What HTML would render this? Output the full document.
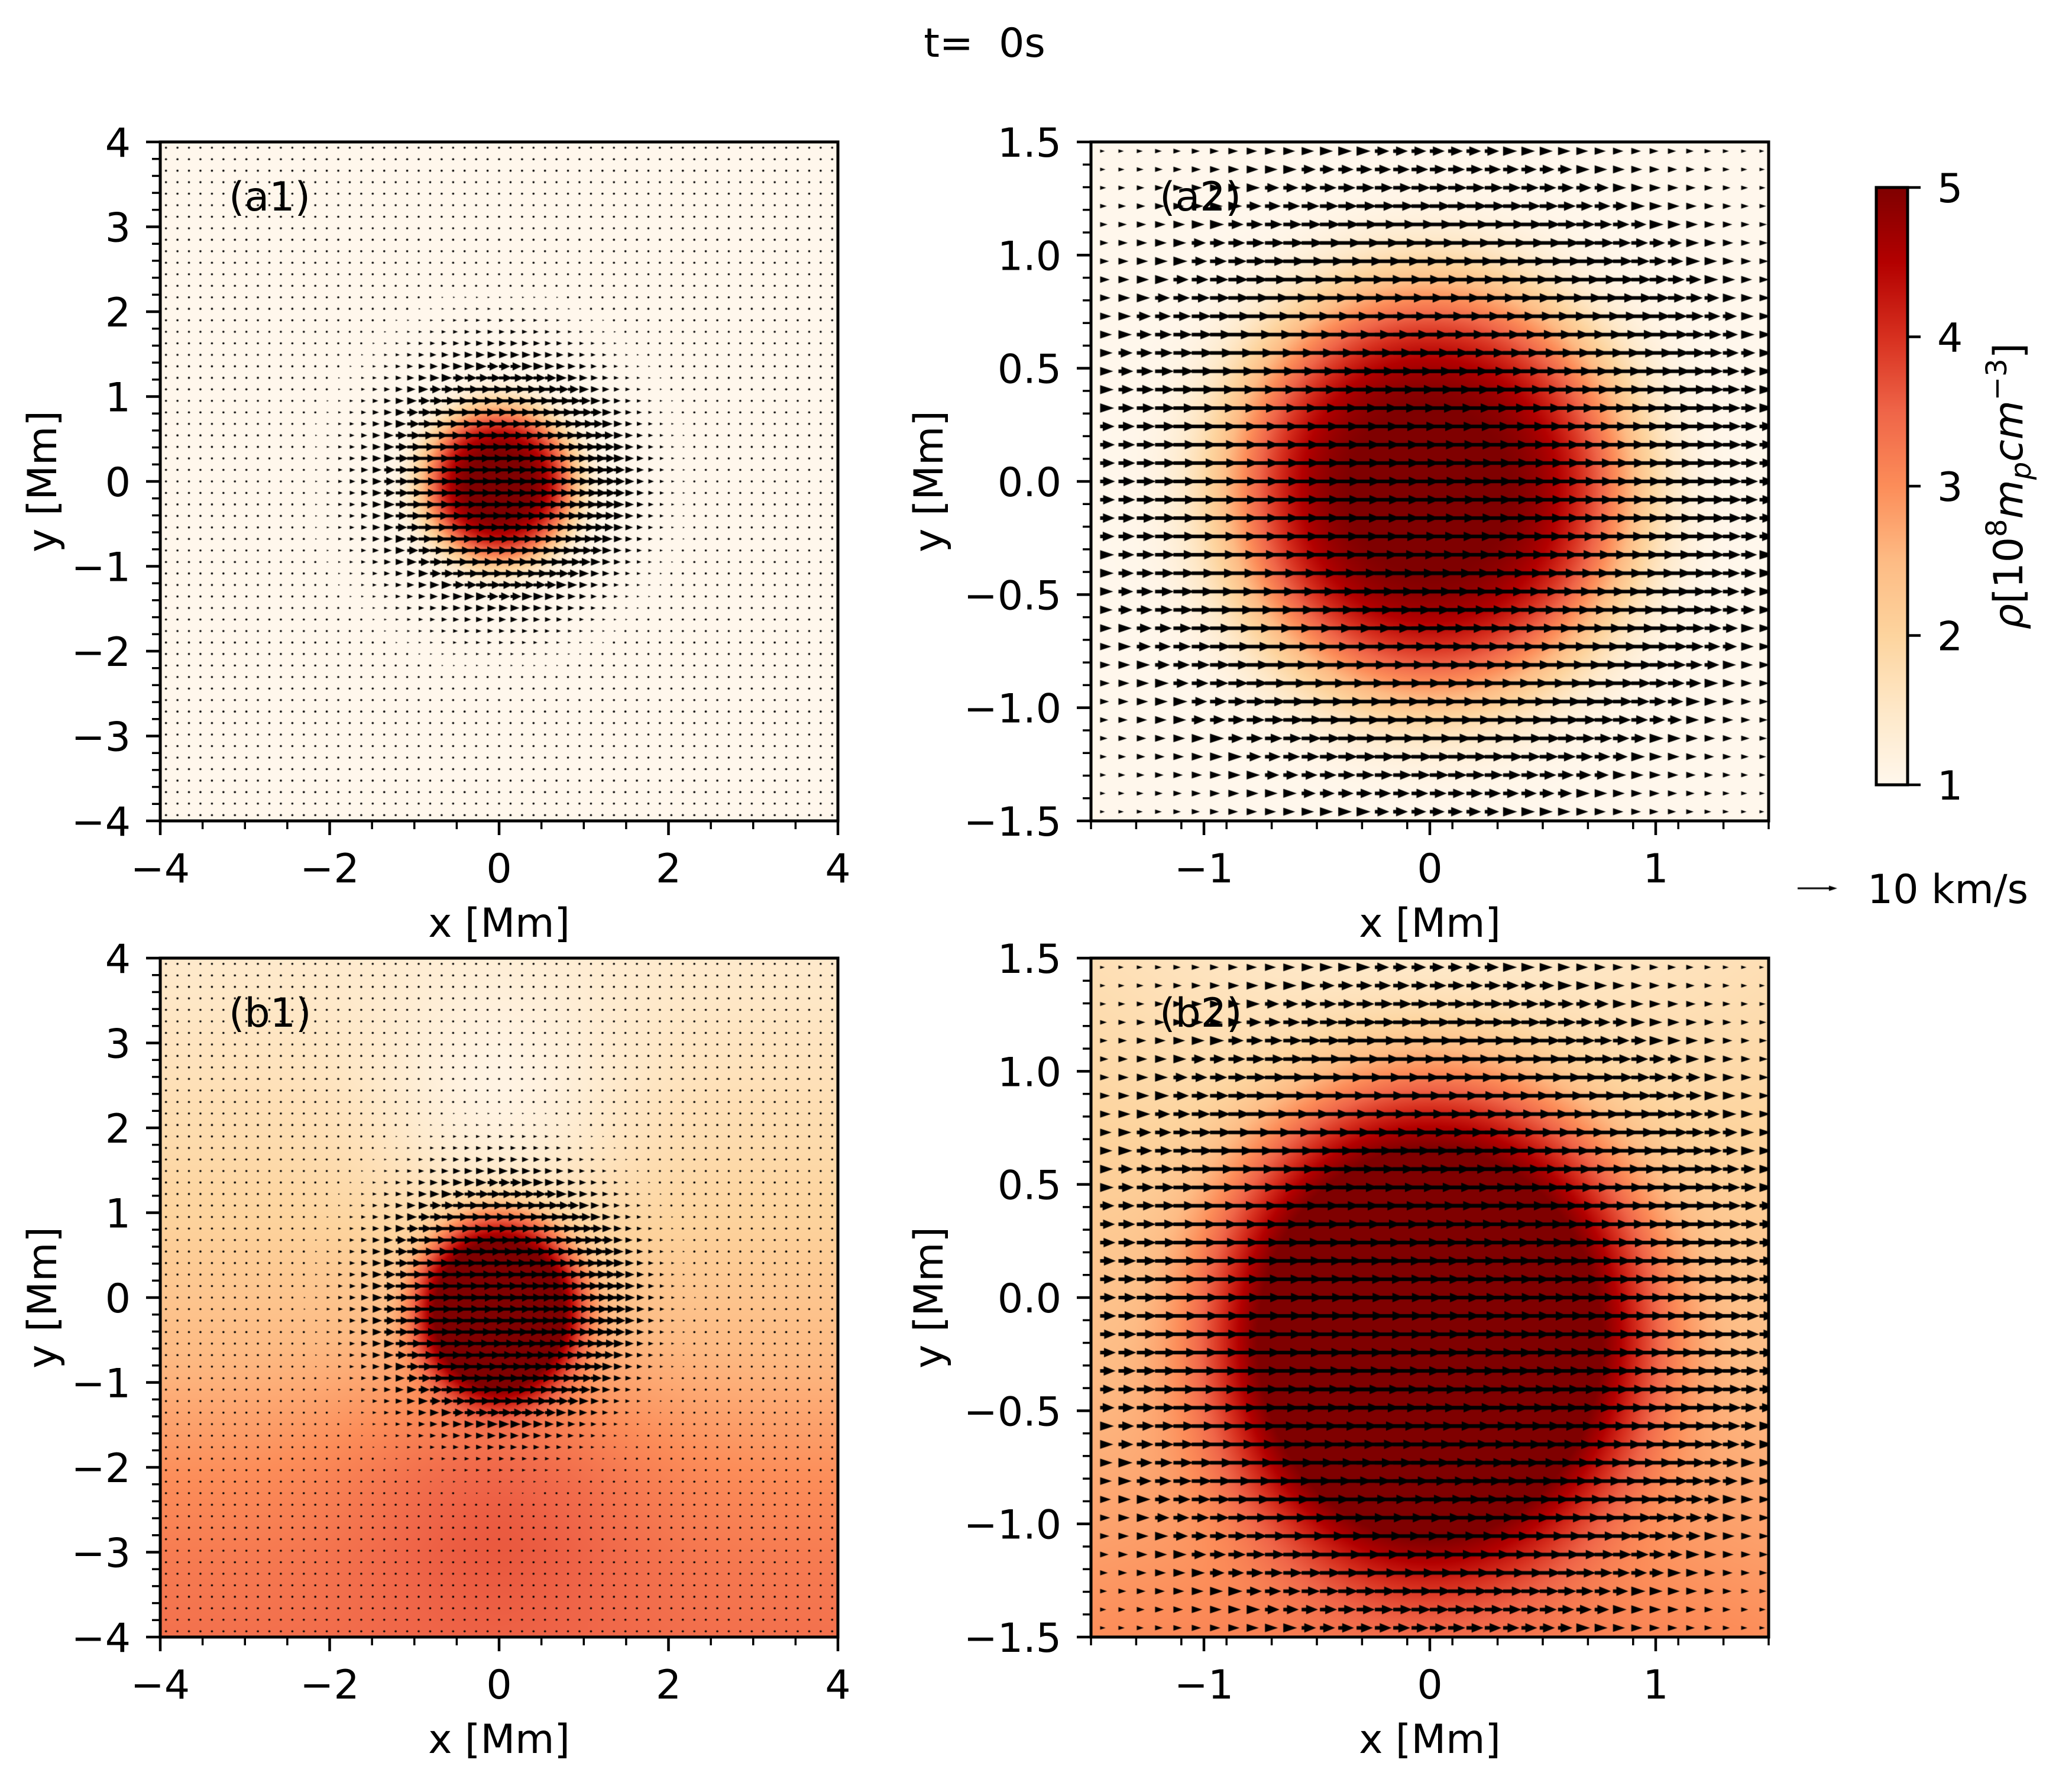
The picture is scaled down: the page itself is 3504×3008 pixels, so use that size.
<!DOCTYPE html>
<html><head><meta charset="utf-8">
<style>
html,body{margin:0;padding:0;background:#fff;}
#wrap{position:relative;width:3504px;height:3008px;overflow:hidden;}
canvas,svg{position:absolute;left:0;top:0;}
text{font-family:"DejaVu Sans","Liberation Sans",sans-serif;fill:#000;}
</style></head>
<body>
<div id="wrap">
<canvas id="cv" width="3504" height="3008"></canvas>
<svg id="sv" width="3504" height="3008" xmlns="http://www.w3.org/2000/svg"></svg>
</div>
<script>
// ---------- data ----------
const panelNames = ["a1","a2","b1","b2"];
const xRanges = [[-4,4],[-1.5,1.5],[-4,4],[-1.5,1.5]];
const yRanges = [[-4,4],[-1.5,1.5],[-4,4],[-1.5,1.5]];
const xTickVals = [[-4,-2,0,2,4],[-1,0,1],[-4,-2,0,2,4],[-1,0,1]];
const xTickLabels = [["−4","−2","0","2","4"],["−1","0","1"],["−4","−2","0","2","4"],["−1","0","1"]];
const yTickVals = [[-4,-3,-2,-1,0,1,2,3,4],[-1.5,-1,-0.5,0,0.5,1,1.5],[-4,-3,-2,-1,0,1,2,3,4],[-1.5,-1,-0.5,0,0.5,1,1.5]];
const yTickLabels = [["−4","−3","−2","−1","0","1","2","3","4"],["−1.5","−1.0","−0.5","0.0","0.5","1.0","1.5"],["−4","−3","−2","−1","0","1","2","3","4"],["−1.5","−1.0","−0.5","0.0","0.5","1.0","1.5"]];
const xMinorStep = [0.5,0.2,0.5,0.2];
const yMinorStep = [0.2,0.1,0.2,0.1];
// density blob: [cx, cy, Rx, Ry, sharpnessPower, amplitude]
const blobA = [0, -0.04, 0.9, 0.92, 4, 4.1];
const blobB = [0, -0.1, 0.95, 1.08, 4, 3.9];
// stratified background (panel b): density at the side edges vs height
const bgY = [4, 3, 2, 1, 0, -1, -2, -3, -4];
const bgEdge = [1.45, 1.6, 1.8, 2.0, 2.3, 2.6, 2.95, 3.2, 3.35];
// central perturbation: [cy, amplitude, width]
const bgDip = [2.2, -0.6, 1.5];
const bgBump = [-2.2, 0.5, 1.8];
// velocity field (horizontal): peak speed km/s per panel, gaussian width Mm
const vPeak = [7, 7, 7.5, 7.5];
const vWidth = [1.36, 1.36, 1.36, 1.36];
const vCenterY = [0, 0, -0.05, -0.05];
const quiverN = [59, 37, 59, 37];
const cbTicks = [1,2,3,4,5];
const cbRange = [1,5];
const keySpeed = 10;

// ---------- layout ----------
const PX = [[271,240],[1845,240],[271,1620],[1845,1620]];
const PW = 1146, PH = 1148;
const pxPerKms = [7.2, 11.4, 7.2, 11.4];
const arrowStyle = [[5,15,14],[6,20,16],[5,15,14],[6,20,16]];
const cmap = ["#fff7ec","#fee8c8","#fdd49e","#fdbb84","#fc8d59","#ef6548","#d7301f","#b30000","#7f0000"].map(h=>[parseInt(h.slice(1,3),16),parseInt(h.slice(3,5),16),parseInt(h.slice(5,7),16)]);
function colorOf(v){
  let t=(v-cbRange[0])/(cbRange[1]-cbRange[0]); t=Math.max(0,Math.min(1,t));
  const f=t*(cmap.length-1); const i=Math.min(cmap.length-2,Math.floor(f)); const u=f-i;
  return [0,1,2].map(k=>Math.round(cmap[i][k]+(cmap[i+1][k]-cmap[i][k])*u));
}
function interp(xs,ys,x){
  if(x>=xs[0])return ys[0]; if(x<=xs[xs.length-1])return ys[ys.length-1];
  for(let i=0;i<xs.length-1;i++){ if(x<=xs[i]&&x>=xs[i+1]){const u=(xs[i]-x)/(xs[i]-xs[i+1]);return ys[i]+(ys[i+1]-ys[i])*u;} }
}
function blob(b,x,y){
  const r=Math.sqrt(((x-b[0])/b[2])**2+((y-b[1])/b[3])**2);
  return b[5]*Math.exp(-Math.pow(r,b[4]));
}
function density(p,x,y){
  if(p<2) return 1+blob(blobA,x,y);
  let bg=interp(bgY,bgEdge,y);
  bg+=bgDip[1]*Math.exp(-(x*x)/(bgDip[2]**2))*Math.exp(-((y-bgDip[0])**2)/(bgDip[2]**2));
  bg+=bgBump[1]*Math.exp(-(x*x)/(bgBump[2]**2))*Math.exp(-((y-bgBump[0])**2)/(bgBump[2]**2));
  return Math.min(5,bg+blob(blobB,x,y));
}
function speed(p,x,y){return vPeak[p]*Math.exp(-(x*x+(y-vCenterY[p])**2)/(vWidth[p]**2));}

const cv=document.getElementById('cv'); const ctx=cv.getContext('2d');
const img=ctx.createImageData(3504,3008); const D=img.data;
for(let i=0;i<D.length;i+=4){D[i]=255;D[i+1]=255;D[i+2]=255;D[i+3]=255;}
for(let p=0;p<4;p++){
  const [L,T]=PX[p]; const xr=xRanges[p], yr=yRanges[p];
  for(let j=0;j<PH;j++){
    const y=yr[1]-(j+0.5)/PH*(yr[1]-yr[0]);
    for(let i=0;i<PW;i++){
      const x=xr[0]+(i+0.5)/PW*(xr[1]-xr[0]);
      const c=colorOf(density(p,x,y));
      const k=((T+j)*3504+(L+i))*4; D[k]=c[0];D[k+1]=c[1];D[k+2]=c[2];
    }
  }
}
const CB=[3173,317,53,1010];
for(let j=0;j<CB[3];j++){const v=cbRange[1]-(j+0.5)/CB[3]*(cbRange[1]-cbRange[0]);const c=colorOf(v);
  for(let i=0;i<CB[2];i++){const k=((CB[1]+j)*3504+CB[0]+i)*4;D[k]=c[0];D[k+1]=c[1];D[k+2]=c[2];}}
ctx.putImageData(img,0,0);

function drawArrow(x,y,L,sw,hl,hw){
  ctx.beginPath();
  if(L<3){ctx.arc(x,y,1.8,0,Math.PI*2);ctx.fill();return;}
  if(L<hl*1.2){const s=L/(hl*1.2);ctx.moveTo(x,y-hw*s/2);ctx.lineTo(x+L,y);ctx.lineTo(x,y+hw*s/2);ctx.closePath();ctx.fill();return;}
  ctx.moveTo(x,y-sw/2);ctx.lineTo(x+L-hl,y-sw/2);ctx.lineTo(x+L-hl,y-hw/2);ctx.lineTo(x+L,y);
  ctx.lineTo(x+L-hl,y+hw/2);ctx.lineTo(x+L-hl,y+sw/2);ctx.lineTo(x,y+sw/2);ctx.closePath();ctx.fill();
}
ctx.fillStyle="#000";
for(let p=0;p<4;p++){
  const [L,T]=PX[p]; const xr=xRanges[p], yr=yRanges[p]; const N=quiverN[p];
  ctx.save();ctx.beginPath();ctx.rect(L,T,PW,PH);ctx.clip();
  const [sw,hl,hw]=arrowStyle[p];
  for(let a=0;a<N;a++)for(let b=0;b<N;b++){
    const x=xr[0]+(a+0.5)/N*(xr[1]-xr[0]); const y=yr[0]+(b+0.5)/N*(yr[1]-yr[0]);
    const px=L+(x-xr[0])/(xr[1]-xr[0])*PW; const py=T+(yr[1]-y)/(yr[1]-yr[0])*PH;
    drawArrow(px,py,speed(p,x,y)*pxPerKms[p],sw,hl,hw);
  }
  ctx.restore();
}
drawArrow(3040,1502,keySpeed*6.7,3,14,9);

// ---------- SVG axes ----------
const NS="http://www.w3.org/2000/svg"; const sv=document.getElementById('sv');
function el(tag,attrs,parent){const e=document.createElementNS(NS,tag);for(const k in attrs)e.setAttribute(k,attrs[k]);(parent||sv).appendChild(e);return e;}
function txt(s,attrs,parent){const e=el('text',attrs,parent);e.textContent=s;return e;}
const FS=68;
for(let p=0;p<4;p++){
  const [L,T]=PX[p]; const xr=xRanges[p], yr=yRanges[p];
  const g=el('g',{});
  
  
  const sx=v=>L+(v-xr[0])/(xr[1]-xr[0])*PW, sy=v=>T+(yr[1]-v)/(yr[1]-yr[0])*PH;
  const fr=el('rect',{x:L,y:T,width:PW,height:PH,fill:'none',stroke:'#000','stroke-width':5},g);
  
  
  for(let v=xr[0];v<=xr[1]+1e-9;v+=xMinorStep[p]){el('line',{x1:sx(v),x2:sx(v),y1:T+PH,y2:T+PH+14,stroke:'#000','stroke-width':3.5},g);}
  for(let v=yr[0];v<=yr[1]+1e-9;v+=yMinorStep[p]){el('line',{x1:L,x2:L-14,y1:sy(v),y2:sy(v),stroke:'#000','stroke-width':3.5},g);}
  xTickVals[p].forEach((v,i)=>{
    el('line',{x1:sx(v),x2:sx(v),y1:T+PH,y2:T+PH+24,stroke:'#000','stroke-width':4.5},g);
    const t=txt(xTickLabels[p][i],{x:sx(v),y:T+PH+104,'text-anchor':'middle','font-size':FS},g);
    
    
  });
  yTickVals[p].forEach((v,i)=>{
    el('line',{x1:L,x2:L-24,y1:sy(v),y2:sy(v),stroke:'#000','stroke-width':4.5},g);
    const t=txt(yTickLabels[p][i],{x:L-50,y:sy(v)+25,'text-anchor':'end','font-size':FS},g);
    
    
  });
  const xl=txt('x [Mm]',{x:L+PW/2,y:T+PH+196,'text-anchor':'middle','font-size':FS},g);
  
  
  const yx=(p%2===0)?95:1594;
  const yl=txt('y [Mm]',{x:yx,y:T+PH/2,'text-anchor':'middle','font-size':FS,transform:`rotate(-90 ${yx} ${T+PH/2})`},g);
  
  
  const pl=txt('('+panelNames[p]+')',{x:L+116,y:T+116,'font-size':FS,fill:'#222'},g);
  
  
}
const ti=txt('t=  0s',{x:1665,y:96,'text-anchor':'middle','font-size':FS});


ti.style.whiteSpace='pre';
const cbg=el('g',{});


el('rect',{x:CB[0],y:CB[1],width:CB[2],height:CB[3],fill:'none',stroke:'#000','stroke-width':5},cbg);
cbTicks.forEach(v=>{
  const y=CB[1]+(cbRange[1]-v)/(cbRange[1]-cbRange[0])*CB[3];
  el('line',{x1:CB[0]+CB[2],x2:CB[0]+CB[2]+22,y1:y,y2:y,stroke:'#000','stroke-width':4.5},cbg);
  const t=txt(String(v),{x:3276,y:y+25,'font-size':FS},cbg);
  
  
});
const cl=el('text',{x:3420,y:822,'text-anchor':'middle','font-size':FS,transform:'rotate(-90 3420 822)'},cbg);


cl.innerHTML='<tspan font-style="italic">ρ</tspan>[10<tspan dy="-27" font-size="48">8</tspan><tspan dy="27" font-style="italic">m</tspan><tspan dy="14" font-size="48" font-style="italic">p</tspan><tspan dy="-14" font-style="italic">cm</tspan><tspan dy="-27" font-size="48">−3</tspan><tspan dy="27">]</tspan>';
const kt=txt('10 km/s',{x:3158,y:1527,'font-size':FS});


</script>
</body></html>
